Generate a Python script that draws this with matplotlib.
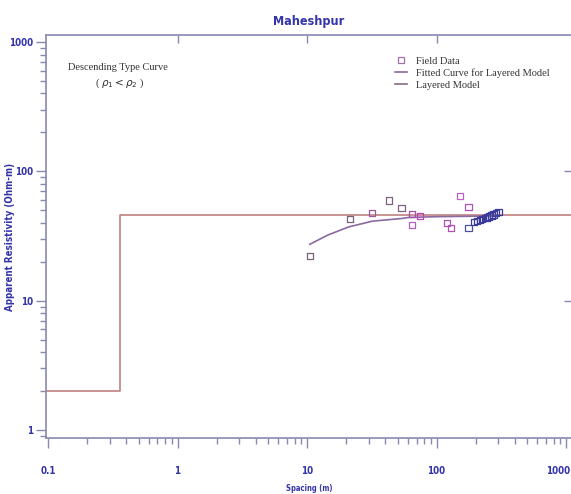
import matplotlib
matplotlib.use("Agg")
import matplotlib.pyplot as plt
from matplotlib.lines import Line2D
import matplotlib.ticker as mticker
import matplotlib.transforms as mtransforms
import numpy as np

# ---- data ----
field_x = [10.5, 21.3, 31.8, 42.7, 53.5, 64.6, 64.6, 74.8, 120, 130, 152, 176, 176,
           193, 205, 215, 225, 235, 245, 255, 265, 275, 288, 300]
field_y = [22.2, 42.6, 47.4, 59.4, 51.9, 46.6, 38.5, 45.4, 40.1, 36.7, 64.5, 53.3, 36.4,
           40.8, 41.3, 42.0, 42.6, 43.3, 44.0, 44.8, 45.6, 46.4, 47.6, 48.8]
field_c = ["#7a607a", "#7a607a", "#9a5aa0", "#806080", "#806080", "#a050a8", "#b060c0",
           "#c040c0", "#b050b8", "#b050b8", "#c060c8", "#b050c0", "#5050a0",
           "#3a3a9a", "#3a3a9a", "#3a3a9a", "#3a3a9a", "#3a3a9a", "#3a3a9a", "#3a3a9a",
           "#3a3a9a", "#3a3a9a", "#3a3a9a", "#3a3a9a"]

fit_x = [10.5, 14.5, 21, 32, 54, 61, 100, 200, 300]
fit_y = [27.3, 32.2, 37.2, 41.2, 43.2, 44.0, 44.6, 45.0, 45.3]

layer_rho = [2.0, 46.0]
layer_boundary = 0.36

x_ticks = [0.1, 1, 10, 100, 1000]
x_ticklabels = ["0.1", "1", "10", "100", "1000"]
y_ticks = [1, 10, 100, 1000]
y_ticklabels = ["1", "10", "100", "1000"]

# ---- figure ----
fig = plt.figure(figsize=(5.71, 4.94), dpi=100)
ax = fig.add_axes([46/571, 1-438/494, 1-46/571+0.002, (438-35)/494])
ax.set_xscale("log")
ax.set_yscale("log")
xmin, xmax = 0.1*10**(-2/130), 1000*10**(6/130)
ymin, ymax = 10**(-8/129.3), 10**(3+7/129.3)
ax.set_xlim(xmin, xmax)
ax.set_ylim(ymin, ymax)

spine_c = "#8888b0"
lab_c = "#3333aa"
for s in ax.spines.values():
    s.set_color(spine_c)
    s.set_linewidth(1.2)
ax.spines["right"].set_visible(False)

# layered model
ax.plot([xmin, layer_boundary, layer_boundary, xmax],
        [layer_rho[0], layer_rho[0], layer_rho[1], layer_rho[1]],
        color="#c08080", lw=1.2, zorder=2)
# fitted curve
ax.plot(fit_x, fit_y, color="#8a6aa0", lw=1.2, zorder=3)
# field data
ax.scatter(field_x, field_y, marker="s", s=20, facecolors="none",
           edgecolors=field_c, linewidths=0.9, zorder=4)

tfont = dict(family=["DejaVu Sans"], stretch="condensed", weight="bold", color=lab_c)
ax.set_xticks(x_ticks)
ax.set_xticklabels(x_ticklabels, fontsize=7, **tfont)
ax.set_yticks(y_ticks)
ax.set_yticklabels(y_ticklabels, fontsize=7, **tfont)
ax.xaxis.set_minor_locator(mticker.LogLocator(base=10, subs=np.arange(2, 10), numticks=20))
ax.yaxis.set_minor_locator(mticker.LogLocator(base=10, subs=np.arange(2, 10), numticks=20))
ax.xaxis.set_minor_formatter(mticker.NullFormatter())
ax.yaxis.set_minor_formatter(mticker.NullFormatter())
ax.tick_params(axis="both", which="major", direction="out", length=7, width=1, color=spine_c, pad=2)
ax.tick_params(axis="both", which="minor", direction="out", length=4, width=1, color=spine_c)
ax.tick_params(axis="x", which="major", pad=13)
last = ax.get_xticklabels()[-1]
last.set_horizontalalignment("right")
last.set_transform(last.get_transform() + mtransforms.ScaledTranslation(4/100, 0, fig.dpi_scale_trans))

# top inward major ticks
axt = ax.secondary_xaxis("top")
axt.set_xticks([1, 10, 100])
axt.xaxis.set_minor_locator(mticker.NullLocator())
axt.set_xticklabels([])
axt.tick_params(direction="in", length=6, width=1, color=spine_c)
axt.spines["top"].set_visible(False)
axr = ax.secondary_yaxis("right")
axr.set_yticks([10, 100])
axr.yaxis.set_minor_locator(mticker.NullLocator())
axr.set_yticklabels([])
axr.tick_params(direction="in", length=6, width=1, color=spine_c)
axr.spines["right"].set_visible(False)

ax.set_title("Maheshpur", fontsize=9, pad=7, **tfont)
ax.set_xlabel("Spacing (m)", fontsize=5.5, labelpad=6, **tfont)
fig.text(0.017, 0.52, "Apparent Resistivity (Ohm-m)", rotation=90, ha="center", va="center",
         fontsize=7, **tfont)

sfont = dict(family=["Liberation Serif", "DejaVu Serif"], color="#333333")
ax.text(0.137, 0.92, "Descending Type Curve", transform=ax.transAxes, fontsize=7.5,
        ha="center", va="center", **sfont)
ax.text(0.14, 0.88, r"( $\rho_1 < \rho_2$ )", transform=ax.transAxes, fontsize=7.5,
        ha="center", va="center", **sfont)

handles = [Line2D([], [], marker="s", ls="none", mfc="none", mec="#a070a8", ms=4.5, mew=0.9),
           Line2D([], [], color="#8a6aa0", lw=1.2),
           Line2D([], [], color="#8a6a80", lw=1.2)]
leg = ax.legend(handles, ["Field Data", "Fitted Curve for Layered Model", "Layered Model"],
                loc="upper left", bbox_to_anchor=(0.645, 0.97), frameon=False,
                handlelength=1.2, handletextpad=0.8, labelspacing=0.25,
                prop=dict(family="Liberation Serif", size=7.5))
for t in leg.get_texts():
    t.set_color("#333333")

fig.savefig("out.png", dpi=100)
